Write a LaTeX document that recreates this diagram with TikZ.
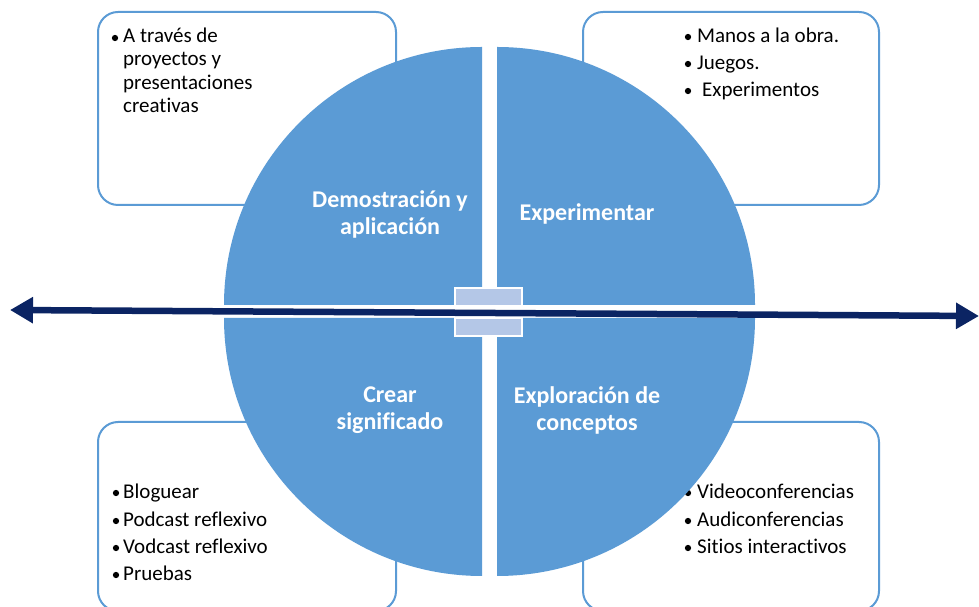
\documentclass[tikz,border=0pt]{standalone}
\usepackage{fontspec}
\setmainfont{Carlito}[Ligatures=NoCommon]
\usetikzlibrary{arrows.meta}
\definecolor{qblue}{HTML}{5B9BD5}
\definecolor{lblue}{HTML}{B4C7E7}
\definecolor{navy}{HTML}{0B2463}
\tikzset{
  itembox/.style={draw=qblue, line width=2pt, fill=white, rounded corners=20pt},
  quad/.style={fill=qblue},
  itemtext/.style={anchor=base west, inner sep=0pt, font=\fontsize{21}{25}\selectfont},
  bul/.style={circle, fill=black, inner sep=0pt, minimum size=6.3pt},
  qlabel/.style={text=white, align=center, font=\fontsize{24}{27}\selectfont\bfseries},
  centerbox/.style={fill=lblue, draw=white, line width=2pt},
  axis/.style={draw=navy, line width=6.5pt, {Triangle[length=23pt,width=25pt]}-{Triangle[length=23pt,width=25pt]}}
}
\begin{document}
\begin{tikzpicture}[x=1pt,y=1pt]
\useasboundingbox (0,0) rectangle (979,607);
% boxes
\draw[itembox] (98,402) rectangle (396,595);
\draw[itembox] (583,402) rectangle (879,595);
\draw[itembox] (98,-4) rectangle (396,185);
\draw[itembox] (583,-4) rectangle (879,185);
% top-left text
\node[bul] (b1) at (115,569) {};
\node[itemtext] (t1a) at (123,564) {A través de};
\node[itemtext] (t1b) at (123,541) {proyectos y};
\node[itemtext] (t1c) at (123,517) {presentaciones};
\node[itemtext] (t1d) at (123,494) {creativas};
% top-right text
\node[bul] (b2a) at (688,570) {};
\node[bul] (b2b) at (688,543) {};
\node[bul] (b2c) at (688,516) {};
\node[itemtext] (t2a) at (697,564) {Manos a la obra.};
\node[itemtext] (t2b) at (697,537) {Juegos.};
\node[itemtext] (t2c) at (702,510) {Experimentos};
% bottom-left text
\node[bul] (b3a) at (116,114) {};
\node[bul] (b3b) at (116,86) {};
\node[bul] (b3c) at (116,59) {};
\node[bul] (b3d) at (116,32) {};
\node[itemtext] (t3a) at (123,108) {Bloguear};
\node[itemtext] (t3b) at (123,80) {Podcast reflexivo};
\node[itemtext] (t3c) at (123,53) {Vodcast reflexivo};
\node[itemtext] (t3d) at (123,26) {Pruebas};
% bottom-right text
\node[bul] (b4a) at (688,114) {};
\node[bul] (b4b) at (688,86) {};
\node[bul] (b4c) at (688,59) {};
\node[itemtext] (t4a) at (697,108) {Videoconferencias};
\node[itemtext] (t4b) at (697,80) {Audiconferencias};
\node[itemtext] (t4c) at (697,53) {Sitios interactivos};
% quadrants
\fill[quad] (482,302) -- ++(-258,0) arc[start angle=180,end angle=90,radius=258pt] -- cycle;
\fill[quad] (497,302) -- ++(0,258) arc[start angle=90,end angle=0,radius=258pt] -- cycle;
\fill[quad] (497,289) -- ++(258,0) arc[start angle=0,end angle=-90,radius=258pt] -- cycle;
\fill[quad] (482,289) -- ++(0,-258) arc[start angle=-90,end angle=-180,radius=258pt] -- cycle;
% labels
\node[qlabel] (q1) at (390,393) {Demostración y\\aplicación};
\node[qlabel] (q2) at (587,393) {Experimentar};
\node[qlabel] (q3) at (390,197) {Crear\\significado};
\node[qlabel] (q4) at (587,197) {Exploración de\\conceptos};
% center boxes
\draw[centerbox] (455,301) rectangle (522,319);
\draw[centerbox] (455,271) rectangle (522,289);
% axis arrow
\coordinate (aL) at (10,297);
\coordinate (aR) at (979,291);
\draw[axis] (aL) -- (aR);
\end{tikzpicture}
\end{document}
